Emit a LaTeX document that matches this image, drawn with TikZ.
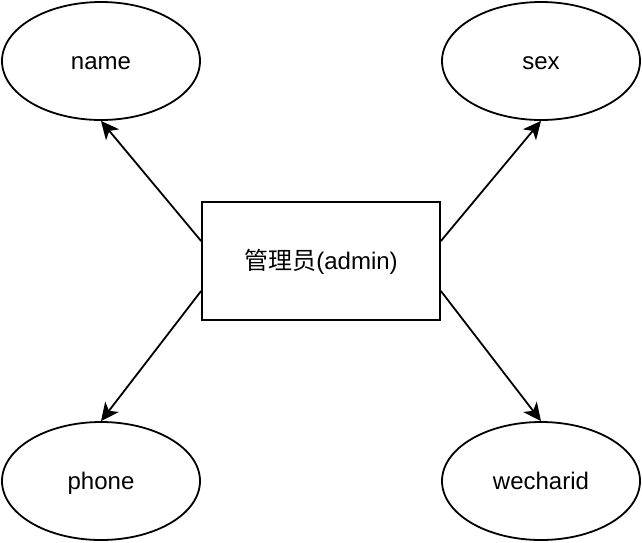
\documentclass[tikz,border=0pt]{standalone}
\usepackage{fontspec}
\setmainfont{Liberation Sans}
\newfontfamily\cjkfont{Noto Sans CJK SC}
\usetikzlibrary{shapes.geometric,arrows.meta}
\begin{document}
\begin{tikzpicture}[x=1pt,y=-1pt,
  every node/.style={font=\fontsize{24}{28}\selectfont, text=black, text height=21.6pt, text depth=5.6pt},
  attr/.style={ellipse, draw, line width=1.8pt, minimum width=198pt, minimum height=118pt, inner sep=0pt},
  entity/.style={rectangle, draw, line width=1.8pt, minimum width=238pt, minimum height=118pt, inner sep=0pt},
  conn/.style={line width=1.8pt, -{Stealth[length=18pt,width=17pt,inset=5pt]}}]
\useasboundingbox (0,0) rectangle (642,542);
\node[attr] (name) at (101,61) {name};
\node[attr] (sex) at (541,61) {sex};
\node[attr] (phone) at (101,481) {phone};
\node[attr] (wech) at (541,481) {wecharid};
\node[entity] (adm) at (321,261) {{\cjkfont 管理员}(admin)};
\draw[conn] ([yshift=20pt]adm.west) -- (name.south);
\draw[conn] ([yshift=20pt]adm.east) -- (sex.south);
\draw[conn] ([yshift=-30pt]adm.west) -- (phone.north);
\draw[conn] ([yshift=-30pt]adm.east) -- (wech.north);
\end{tikzpicture}
\end{document}
